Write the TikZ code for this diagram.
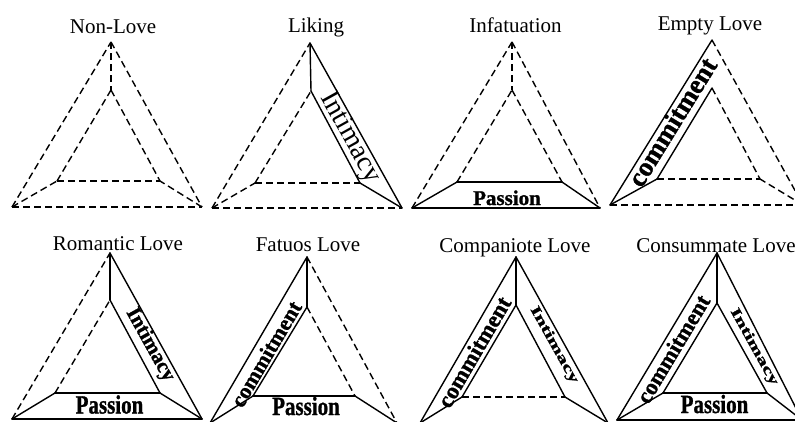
\documentclass[tikz,border=0pt]{standalone}
\usepackage{fontspec}
\setmainfont{Liberation Serif}
\newfontfamily\heavyfont{Liberation Serif}[UprightFeatures={FakeBold=1.2}, BoldFeatures={FakeBold=1.2}]
\usepackage{graphicx}
\newcommand\bands[7]{%
 \draw[#2] (#1L) -- (#1A); \draw[#2] (#1l) -- (#1a);
 \draw[#3] (#1A) -- (#1R); \draw[#3] (#1a) -- (#1r);
 \draw[#4] (#1L) -- (#1R); \draw[#4] (#1l) -- (#1r);
 \draw[#5] (#1A) -- (#1a);
 \draw[#6] (#1L) -- (#1l);
 \draw[#7] (#1R) -- (#1r);
}
\newcommand\tri[7]{% prefix, A, L, R, a, l, r
 \coordinate (#1A) at (#2); \coordinate (#1L) at (#3); \coordinate (#1R) at (#4);
 \coordinate (#1a) at (#5); \coordinate (#1l) at (#6); \coordinate (#1r) at (#7);
}
\tikzset{
 edgeln/.style={line width=1.4pt},
 solidln/.style={edgeln, line cap=round, line join=round},
 dashln/.style={edgeln, dash pattern=on 7pt off 4pt},
 hideln/.style={draw=none},
 title/.style={anchor=base, inner sep=0pt, font=\fontsize{21}{25}\selectfont},
 lbl/.style={inner sep=0pt},
}
\begin{document}
\begin{tikzpicture}[x=1pt,y=-1pt]
\clip (0,0) rectangle (795,421);
% top row
\tri{n}{111,42}{12,207}{202,207}{111,90}{57,181}{160,181}
\tri{k}{310,43}{212,208}{402,208}{311,91}{255,183}{360,183}
\tri{f}{512,42}{412,208}{600,208}{512,90}{457,182}{562,182}
\tri{e}{712,40}{610,205}{803,205}{712,88}{657,179}{760,179}
% bottom row
\tri{r}{110,253}{12,419}{202,419}{110,300}{55,393}{160,393}
\tri{s}{307,257}{210,423}{397,423}{307,307}{253,396}{355,396}
\tri{c}{516,257}{420,423}{608,423}{516,305}{462,397}{565,397}
\tri{m}{717,253}{617,420}{802,420}{717,303}{663,393}{767,393}
% line sets: commitment, intimacy, passion, vertical, BL, BR
\bands{n}{dashln}{dashln}{dashln}{dashln}{dashln}{dashln}
\bands{k}{dashln}{solidln}{dashln}{solidln}{dashln}{solidln}
\bands{f}{dashln}{dashln}{solidln}{dashln}{solidln}{solidln}
\bands{e}{solidln}{dashln}{dashln}{hideln}{solidln}{dashln}
\bands{r}{dashln}{solidln}{solidln}{solidln}{solidln}{solidln}
\bands{s}{solidln}{dashln}{solidln}{solidln}{solidln}{solidln}
\bands{c}{solidln}{solidln}{dashln}{solidln}{solidln}{solidln}
\bands{m}{solidln}{solidln}{solidln}{solidln}{solidln}{solidln}
% titles
\node[title] (tn) at (113,33) {Non-Love};
\node[title] (tk) at (316,32) {Liking};
\node[title] (tf) at (515.5,32) {Infatuation};
\node[title] (te) at (710,30) {Empty Love};
\node[title] (tr) at (118,250) {Romantic Love};
\node[title] (ts) at (308,251) {Fatuos Love};
\node[title] (tc) at (515,252) {Companiote Love};
\node[title] (tm) at (716,252) {Consummate Love};
% intimacy labels
\node[lbl, rotate=-60.9, font=\fontsize{28}{30}\selectfont] (ik) at (350,138) {Intimacy};
\node[lbl, rotate=-61, font=\heavyfont\bfseries\fontsize{21}{25}\selectfont] (ir) at (150,345) {Intimacy};
\node[lbl, rotate=-60.8, font=\heavyfont\bfseries\fontsize{14}{16}\selectfont] (ic) at (554,345) {\scalebox{1.6}[1]{Intimacy}};
\node[lbl, rotate=-61, font=\heavyfont\bfseries\fontsize{14}{16}\selectfont] (im) at (754,347) {\scalebox{1.6}[1]{Intimacy}};
% commitment labels
\node[lbl, rotate=58.3, font=\heavyfont\bfseries\fontsize{27}{30}\selectfont] (ce) at (672,122) {commitment};
\node[lbl, rotate=59.5, font=\heavyfont\bfseries\fontsize{22}{25}\selectfont] (cs) at (266,354) {commitment};
\node[lbl, rotate=59.8, font=\heavyfont\bfseries\fontsize{23}{26}\selectfont] (cc) at (474,352) {commitment};
\node[lbl, rotate=59.1, font=\heavyfont\bfseries\fontsize{22.6}{26}\selectfont] (cm) at (673,349) {commitment};
% passion labels
\node[lbl, anchor=base, font=\heavyfont\bfseries\fontsize{21}{25}\selectfont] (pf) at (507,205) {Passion};
\node[lbl, anchor=base, font=\heavyfont\bfseries\fontsize{21}{25}\selectfont] (pr) at (109.5,413.5) {\scalebox{1}[1.25]{Passion}};
\node[lbl, anchor=base, font=\heavyfont\bfseries\fontsize{21}{25}\selectfont] (ps) at (306,415) {\scalebox{1}[1.25]{Passion}};
\node[lbl, anchor=base, font=\heavyfont\bfseries\fontsize{21}{25}\selectfont] (pm) at (714.5,413) {\scalebox{1}[1.25]{Passion}};
\end{tikzpicture}
\end{document}
